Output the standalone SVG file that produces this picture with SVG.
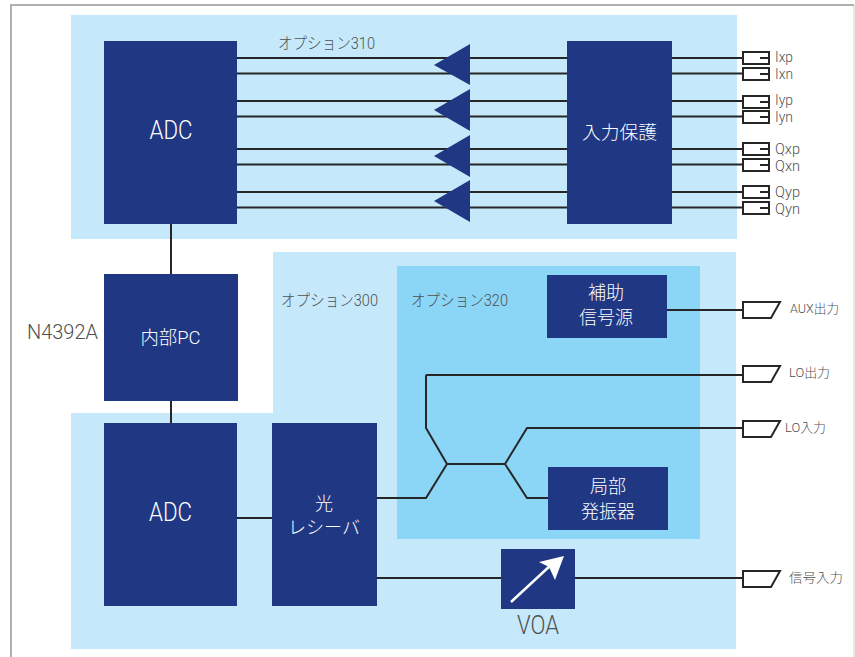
<svg xmlns="http://www.w3.org/2000/svg" width="855" height="657" viewBox="0 0 855 657">
<style>
.bg1{fill:#c5e9fb}
.bg2{fill:#8bd6f7}
.n{fill:#203783}
.w{stroke:#262626;stroke-width:2;fill:none;stroke-linejoin:miter}
.p{stroke:#262626;stroke-width:2;fill:#fff}
text{font-family:"Roboto","Noto Sans CJK JP",sans-serif;font-weight:300}
.t{fill:#fff}
.d{fill:#505050}
.s{font-size:14px}
.m{font-size:16px}
.c{text-anchor:middle}
</style>
<rect x="0" y="0" width="855" height="657" fill="#fff"/>
<path d="M11 657V5H854" fill="none" stroke="#b0b0b0" stroke-width="2"/>
<path d="M854 5V657" fill="none" stroke="#cfcfcf" stroke-width="1"/>
<g id="backgrounds">
<rect class="bg1" x="71" y="15" width="666" height="224"/>
<path class="bg1" d="M273 252H736V649H71V413H273Z"/>
<rect class="bg2" x="397" y="266" width="303" height="273"/>
</g>
<g id="connectors">
<path class="w" d="M237 58H567M237 73.500H567M237 101H567M237 116.500H567M237 149H567M237 164.500H567M237 192H567M237 207.500H567"/>
<path class="w" d="M672 58H743M672 73.500H743M672 101H743M672 116.500H743M672 149H743M672 164.500H743M672 192H743M672 207.500H743"/>
<path class="w" d="M171 224V274M171 401V423M237 518H272"/>
<path class="w" d="M667 310H743M743 375H427Q426 375 426 376V428L447 464H505L527 428H743M505 464L527 498H548M447 464L426 498H377M377 578H501M575 578H743"/>
</g>
<g id="amp1"><path class="n" d="M434 65L470 44V85Z"/></g>
<g id="amp2"><path class="n" d="M434 110L470 89V131Z"/></g>
<g id="amp3"><path class="n" d="M434 156L470 135V177Z"/></g>
<g id="amp4"><path class="n" d="M434 201L470 180V222Z"/></g>
<g id="adc-top"><rect class="n" x="104" y="41" width="133" height="183"/><text class="t c" x="171" y="139" font-size="25" textLength="43" lengthAdjust="spacingAndGlyphs">ADC</text></g>
<g id="input-protect"><rect class="n" x="567" y="41" width="105" height="183"/><text class="t c" x="619.500" y="139" font-size="18" textLength="75" lengthAdjust="spacingAndGlyphs">入力保護</text></g>
<g id="pc"><rect class="n" x="104" y="274" width="134" height="127"/><text class="t c" x="170.500" y="344" font-size="18" textLength="60" lengthAdjust="spacingAndGlyphs">内部PC</text></g>
<g id="adc-bottom"><rect class="n" x="104" y="423" width="133" height="183"/><text class="t c" x="170.500" y="521" font-size="25" textLength="43" lengthAdjust="spacingAndGlyphs">ADC</text></g>
<g id="receiver"><rect class="n" x="272" y="423" width="105" height="183"/><text class="t c" x="324" y="510" font-size="18">光</text><text class="t c" x="324" y="534" font-size="18" textLength="72" lengthAdjust="spacingAndGlyphs">レシーバ</text></g>
<g id="aux-src"><rect class="n" x="547" y="275" width="120" height="63"/><text class="t c" x="606" y="299" font-size="18">補助</text><text class="t c" x="606" y="324" font-size="18">信号源</text></g>
<g id="lo"><rect class="n" x="548" y="467" width="120" height="63"/><text class="t c" x="608" y="493" font-size="18">局部</text><text class="t c" x="608" y="518" font-size="18">発振器</text></g>
<g id="voa"><rect class="n" x="501" y="549" width="74" height="60"/><path d="M511 602L552 564" stroke="#fff" stroke-width="2.500" fill="none"/><path fill="#fff" d="M564 556L539 562L549 567L555 580Z"/><text class="d c" x="538" y="634" font-size="25" textLength="42" lengthAdjust="spacingAndGlyphs">VOA</text></g>
<g id="ports">
<g id="port-ixp"><path class="p" d="M743 52H769V64H743Z"/><path class="w" d="M760 58H769"/><text class="d s" x="775" y="62" textLength="18" lengthAdjust="spacingAndGlyphs">Ixp</text></g>
<g id="port-ixn"><path class="p" d="M743 68H769V80H743Z"/><path class="w" d="M760 74H769"/><text class="d s" x="775" y="79" textLength="18" lengthAdjust="spacingAndGlyphs">Ixn</text></g>
<g id="port-iyp"><path class="p" d="M743 96H769V108H743Z"/><path class="w" d="M760 102H769"/><text class="d s" x="775" y="105" textLength="18" lengthAdjust="spacingAndGlyphs">Iyp</text></g>
<g id="port-iyn"><path class="p" d="M743 111H769V123H743Z"/><path class="w" d="M760 117H769"/><text class="d s" x="775" y="122" textLength="18" lengthAdjust="spacingAndGlyphs">Iyn</text></g>
<g id="port-qxp"><path class="p" d="M743 143H769V155H743Z"/><path class="w" d="M760 149H769"/><text class="d s" x="775" y="154" textLength="25" lengthAdjust="spacingAndGlyphs">Qxp</text></g>
<g id="port-qxn"><path class="p" d="M743 159H769V171H743Z"/><path class="w" d="M760 165H769"/><text class="d s" x="775" y="171" textLength="25" lengthAdjust="spacingAndGlyphs">Qxn</text></g>
<g id="port-qyp"><path class="p" d="M743 186H769V198H743Z"/><path class="w" d="M760 192H769"/><text class="d s" x="775" y="197" textLength="25" lengthAdjust="spacingAndGlyphs">Qyp</text></g>
<g id="port-qyn"><path class="p" d="M743 202H769V214H743Z"/><path class="w" d="M760 208H769"/><text class="d s" x="775" y="214" textLength="25" lengthAdjust="spacingAndGlyphs">Qyn</text></g>
<g id="port-aux"><path class="p" d="M743 302H780L771 318H743Z"/><text class="d" x="790" y="313" font-size="13" textLength="49" lengthAdjust="spacingAndGlyphs">AUX出力</text></g>
<g id="port-loout"><path class="p" d="M743 366H780L771 382H743Z"/><text class="d" x="789" y="377" font-size="13" textLength="41" lengthAdjust="spacingAndGlyphs">LO出力</text></g>
<g id="port-loin"><path class="p" d="M743 421H780L771 437H743Z"/><text class="d" x="785" y="432" font-size="13" textLength="41" lengthAdjust="spacingAndGlyphs">LO入力</text></g>
<g id="port-sig"><path class="p" d="M743 571H780L771 587H743Z"/><text class="d" x="789" y="582" font-size="13" textLength="54" lengthAdjust="spacingAndGlyphs">信号入力</text></g>
</g>
<g id="labels">
<text class="d m" x="278" y="49" textLength="97" lengthAdjust="spacingAndGlyphs">オプション310</text>
<text class="d m" x="281" y="306" textLength="97" lengthAdjust="spacingAndGlyphs">オプション300</text>
<text class="d m" x="411" y="306" textLength="97" lengthAdjust="spacingAndGlyphs">オプション320</text>
<text class="d" x="27" y="339" font-size="21" textLength="71" lengthAdjust="spacingAndGlyphs">N4392A</text>
</g>
</svg>
